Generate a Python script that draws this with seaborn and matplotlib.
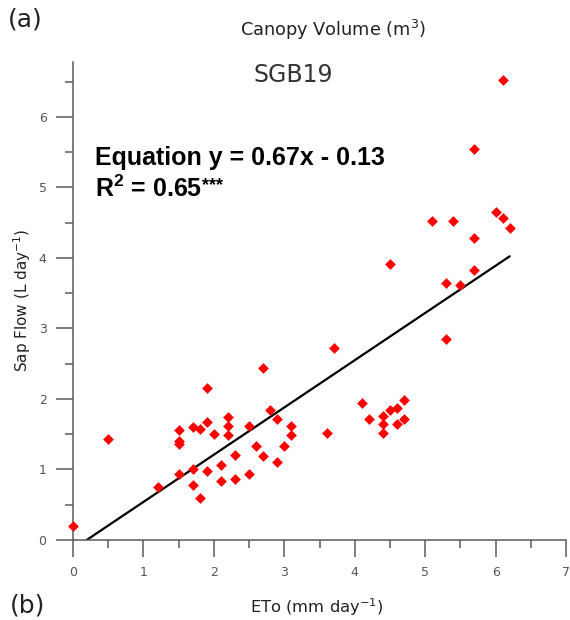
import matplotlib
matplotlib.use("Agg")
import matplotlib.pyplot as plt
import seaborn as sns
import numpy as np
import pandas as pd
from matplotlib.ticker import MultipleLocator

# ETo vs sap flow, SGB19
eto = [0.0, 0.5, 1.2, 1.5, 1.5, 1.5, 1.5, 1.7, 1.7, 1.7, 1.8, 1.8,
       1.9, 1.9, 1.9, 2.0, 2.1, 2.1, 2.2, 2.2, 2.2, 2.3, 2.3, 2.5,
       2.5, 2.6, 2.7, 2.7, 2.8, 2.9, 2.9, 3.0, 3.1, 3.1, 3.6, 3.7,
       4.1, 4.2, 4.4, 4.4, 4.4, 4.5, 4.5, 4.6, 4.6, 4.7, 4.7, 5.1,
       5.3, 5.3, 5.4, 5.5, 5.7, 5.7, 5.7, 6.0, 6.1, 6.1, 6.2]
sap_flow = [0.20, 1.43, 0.75, 1.56, 1.40, 1.36, 0.94, 1.60, 1.01, 0.78, 1.57, 0.59,
            2.15, 1.67, 0.98, 1.51, 1.06, 0.83, 1.75, 1.62, 1.49, 1.20, 0.87, 1.61,
            0.94, 1.34, 2.44, 1.19, 1.85, 1.71, 1.11, 1.34, 1.61, 1.49, 1.52, 2.72,
            1.94, 1.71, 1.76, 1.65, 1.52, 1.85, 3.91, 1.87, 1.65, 1.99, 1.71, 4.53,
            3.64, 2.85, 4.52, 3.61, 5.54, 4.29, 3.83, 4.65, 4.57, 6.53, 4.42]

slope = 0.67
intercept = -0.13
r_squared = 0.65

df = pd.DataFrame({"eto": eto, "sap": sap_flow})

sns.set_style("white")
plt.rcParams["font.family"] = ["DejaVu Sans"]
plt.rcParams["mathtext.fontset"] = "custom"
plt.rcParams["mathtext.rm"] = "DejaVu Sans"
plt.rcParams["mathtext.bf"] = "Liberation Sans:bold"

W, H = 570, 620
fig = plt.figure(figsize=(W / 100, H / 100), dpi=100)
ax = fig.add_axes([73 / W, 1 - 540 / H, 493 / W, 478 / H])

# fitted line, starting where it crosses zero
x0 = -intercept / slope
line_x = np.array([x0, max(eto)])
sns.lineplot(x=line_x, y=slope * line_x + intercept, ax=ax,
             color="black", linewidth=1.6, zorder=2)

sns.scatterplot(data=df, x="eto", y="sap", ax=ax, marker="D", s=30,
                color="#ff0000", linewidth=0, zorder=3, clip_on=False)

ax.set_xlim(0, 7)
ax.set_ylim(0, 6.78)
ax.xaxis.set_major_locator(MultipleLocator(1))
ax.xaxis.set_minor_locator(MultipleLocator(0.5))
ax.yaxis.set_major_locator(MultipleLocator(1))
ax.yaxis.set_minor_locator(MultipleLocator(0.5))

grey = "#5a5a5a"
for side in ["top", "right"]:
    ax.spines[side].set_visible(False)
for side in ["left", "bottom"]:
    ax.spines[side].set_color(grey)
    ax.spines[side].set_linewidth(1.1)

ax.tick_params(which="both", bottom=True, left=True, top=False, right=False)
ax.tick_params(which="major", direction="out", length=12, width=1.1,
               color=grey, labelcolor="#555555", labelsize=9, pad=7)
ax.tick_params(which="minor", direction="out", length=6, width=1.1, color=grey)

ax.set_xlabel("ETo (mm day$^{-1}$)", fontsize=11.8, color="#222222")
ax.set_ylabel("Sap Flow (L day$^{-1}$)", fontsize=11, color="#222222")
ax.xaxis.set_label_coords((317 - 73) / 493, (540 - 607) / 478)
ax.yaxis.set_label_coords((22 - 73) / 493, (540 - 300) / 478)
ax.xaxis.label.set_verticalalignment("center")
ax.yaxis.label.set_verticalalignment("center")


def fig_text(x, y, s, **kw):
    return fig.text(x / W, 1 - y / H, s, **kw)


fig_text(333, 30, "Canopy Volume (m$^{3}$)", fontsize=12.8, color="#222222",
         ha="center", va="center")
fig_text(293, 75, "SGB19", fontsize=17, color="#333333", ha="center", va="center")
fig_text(8, 20, "(a)", fontsize=18, color="#222222", ha="left", va="center")
fig_text(10, 605, "(b)", fontsize=18, color="#222222", ha="left", va="center")

fig_text(95, 165, f"Equation y = {slope:.2f}x - {abs(intercept):.2f}",
         family="Liberation Sans", fontweight="bold", fontsize=18,
         color="black", ha="left", va="baseline")
r2_text = fig_text(95, 197, r"R$^{\mathbf{2}}$ = " + f"{r_squared:.2f}",
                   family="Liberation Sans", fontweight="bold", fontsize=18,
                   color="black", ha="left", va="baseline")
ax.annotate("***", xy=(1.0, 1.0), xycoords=r2_text, xytext=(0, -1),
            textcoords="offset points", ha="left", va="top",
            family="Liberation Sans", fontweight="bold", fontsize=13,
            color="black")

fig.savefig("out.png", dpi=100)
